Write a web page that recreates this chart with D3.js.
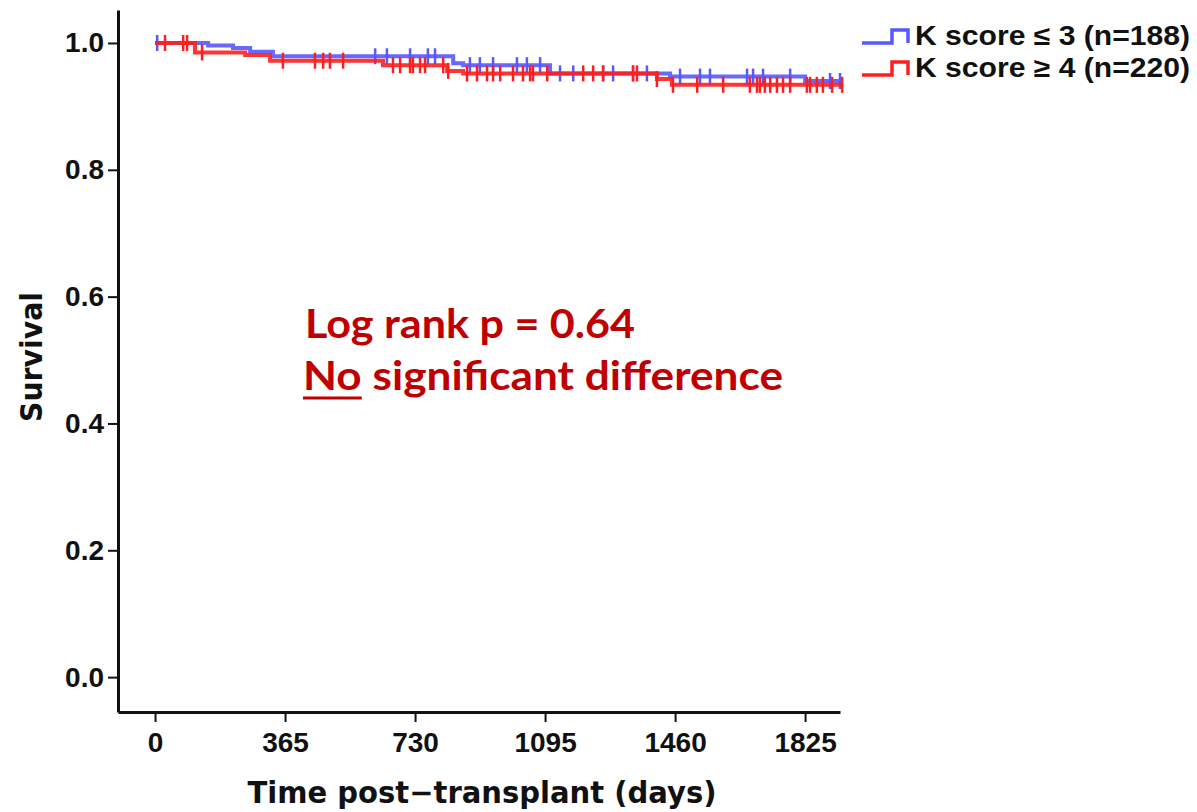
<!DOCTYPE html>
<html lang="en">
<head>
    <meta charset="UTF-8">
    <title>Survival by K score</title>
    <script src="https://d3js.org/d3.v7.min.js"></script>
    <style>
        body, html {
            margin: 0;
            padding: 0;
            overflow: hidden;
            background: #fff;
        }
        svg {
            display: block;
        }
        .axis text {
            font: bold 28px "Liberation Sans", Arial, sans-serif;
            fill: #111;
        }
        .axis line {
            stroke: #111;
            stroke-width: 2px;
        }
        .axis path {
            stroke: #111;
            stroke-width: 3px;
        }
        .title {
            font: bold 30px "DejaVu Sans", sans-serif;
            fill: #111;
        }
        .legend text {
            font: bold 27px "Liberation Sans", Arial, sans-serif;
            fill: #111;
        }
        .note {
            font: bold 40px Lato, "Open Sans", sans-serif;
            fill: #c00000;
        }
    </style>
</head>
<body>
<svg width="1197" height="812"></svg>

<script>
    // step points (days, survival)
    const blueTimes = [0, 149, 219, 267, 331, 837, 865, 1109, 1446, 1825, 1925];
    const blueSurv  = [1, 0.996, 0.992, 0.986, 0.979, 0.968, 0.965, 0.952, 0.947, 0.940, 0.940];
    const redTimes  = [0, 112, 253, 323, 640, 820, 865, 1409, 1451, 1932];
    const redSurv   = [1, 0.985, 0.981, 0.972, 0.965, 0.956, 0.952, 0.943, 0.934, 0.934];

    // censored observations (days)
    const blueCensor = [6, 618, 651, 716, 766, 786, 884, 912, 949, 1016, 1044, 1081, 1137, 1174,
        1258, 1286, 1342, 1381, 1474, 1530, 1558, 1662, 1679, 1707, 1783, 1895, 1923];
    const redCensor = [28, 79, 90, 132, 359, 449, 472, 491, 528, 668, 688, 716, 724, 744, 758, 809,
        823, 876, 904, 932, 949, 969, 1005, 1033, 1053, 1061, 1101, 1202, 1230, 1258, 1342, 1353,
        1409, 1454, 1522, 1595, 1670, 1690, 1698, 1712, 1727, 1746, 1763, 1783, 1830, 1839, 1858,
        1875, 1901, 1929];

    const xTicks = [0, 365, 730, 1095, 1460, 1825];
    const yTicks = [0, 0.2, 0.4, 0.6, 0.8, 1.0];

    const groups = [
        { label: 'K score \u2264 3 (n=188)', color: '#5858ff', times: blueTimes, surv: blueSurv, censor: blueCensor },
        { label: 'K score \u2265 4 (n=220)', color: '#ff1e1e', times: redTimes, surv: redSurv, censor: redCensor }
    ];

    const svg = d3.select('svg');

    const x = d3.scaleLinear().domain([-104, 1923]).range([118, 840]);
    const y = d3.scaleLinear().domain([-0.055, 1.052]).range([712, 10]);

    // axes
    svg.append('g')
        .attr('class', 'axis')
        .attr('transform', 'translate(118,0)')
        .call(d3.axisLeft(y).tickValues(yTicks).tickFormat(d3.format('.1f'))
            .tickSize(10).tickSizeOuter(0).tickPadding(4));

    svg.append('g')
        .attr('class', 'axis')
        .attr('transform', 'translate(0,712)')
        .call(d3.axisBottom(x).tickValues(xTicks).tickFormat(d3.format('d'))
            .tickSize(10).tickSizeOuter(0).tickPadding(10));

    svg.append('text')
        .attr('class', 'title')
        .attr('x', 482)
        .attr('y', 803)
        .attr('text-anchor', 'middle')
        .attr('textLength', 469)
        .attr('lengthAdjust', 'spacingAndGlyphs')
        .text('Time post\u2212transplant (days)');

    svg.append('text')
        .attr('class', 'title')
        .attr('transform', 'translate(42,357) rotate(-90)')
        .attr('text-anchor', 'middle')
        .attr('textLength', 130)
        .attr('lengthAdjust', 'spacingAndGlyphs')
        .text('Survival');

    // curves
    const line = d3.line()
        .x(d => x(d[0]))
        .y(d => y(d[1]))
        .curve(d3.curveStepAfter);

    function survAt(g, t) {
        let s = g.surv[0];
        g.times.forEach((tt, i) => { if (tt <= t) s = g.surv[i]; });
        return s;
    }

    groups.forEach(g => {
        const pts = g.times.map((t, i) => [t, g.surv[i]]);
        const layer = svg.append('g');
        layer.append('path')
            .attr('d', line(pts))
            .attr('fill', 'none')
            .attr('stroke', g.color)
            .attr('stroke-width', 4)
            .attr('stroke-opacity', 0.9);

        layer.selectAll('.cens')
            .data(g.censor)
            .enter().append('line')
            .attr('x1', d => x(d))
            .attr('x2', d => x(d))
            .attr('y1', d => y(survAt(g, d)) - 8)
            .attr('y2', d => y(survAt(g, d)) + 8)
            .attr('stroke', g.color)
            .attr('stroke-width', 2.5);
    });

    // legend
    const legend = svg.append('g').attr('class', 'legend');
    groups.forEach((g, i) => {
        const ly = 43 + i * 32;
        legend.append('path')
            .attr('d', `M862,${ly}H892V${ly - 13}H908V${ly}`)
            .attr('fill', 'none')
            .attr('stroke', g.color)
            .attr('stroke-width', 3.5);
        legend.append('text')
            .attr('x', 915)
            .attr('y', ly + 2)
            .attr('textLength', 275)
            .attr('lengthAdjust', 'spacingAndGlyphs')
            .text(g.label);
    });

    // annotation
    svg.append('text')
        .attr('class', 'note')
        .attr('x', 305)
        .attr('y', 338)
        .attr('textLength', 330)
        .attr('lengthAdjust', 'spacingAndGlyphs')
        .text('Log rank p = 0.64');

    const note2 = svg.append('text')
        .attr('class', 'note')
        .attr('x', 303)
        .attr('y', 390)
        .attr('textLength', 480)
        .attr('lengthAdjust', 'spacingAndGlyphs')
        .text('No significant difference');

    const nEnd = note2.node().getEndPositionOfChar(1).x;
    svg.append('line')
        .attr('x1', 303)
        .attr('x2', nEnd)
        .attr('y1', 398)
        .attr('y2', 398)
        .attr('stroke', '#c00000')
        .attr('stroke-width', 3);
</script>
</body>
</html>
